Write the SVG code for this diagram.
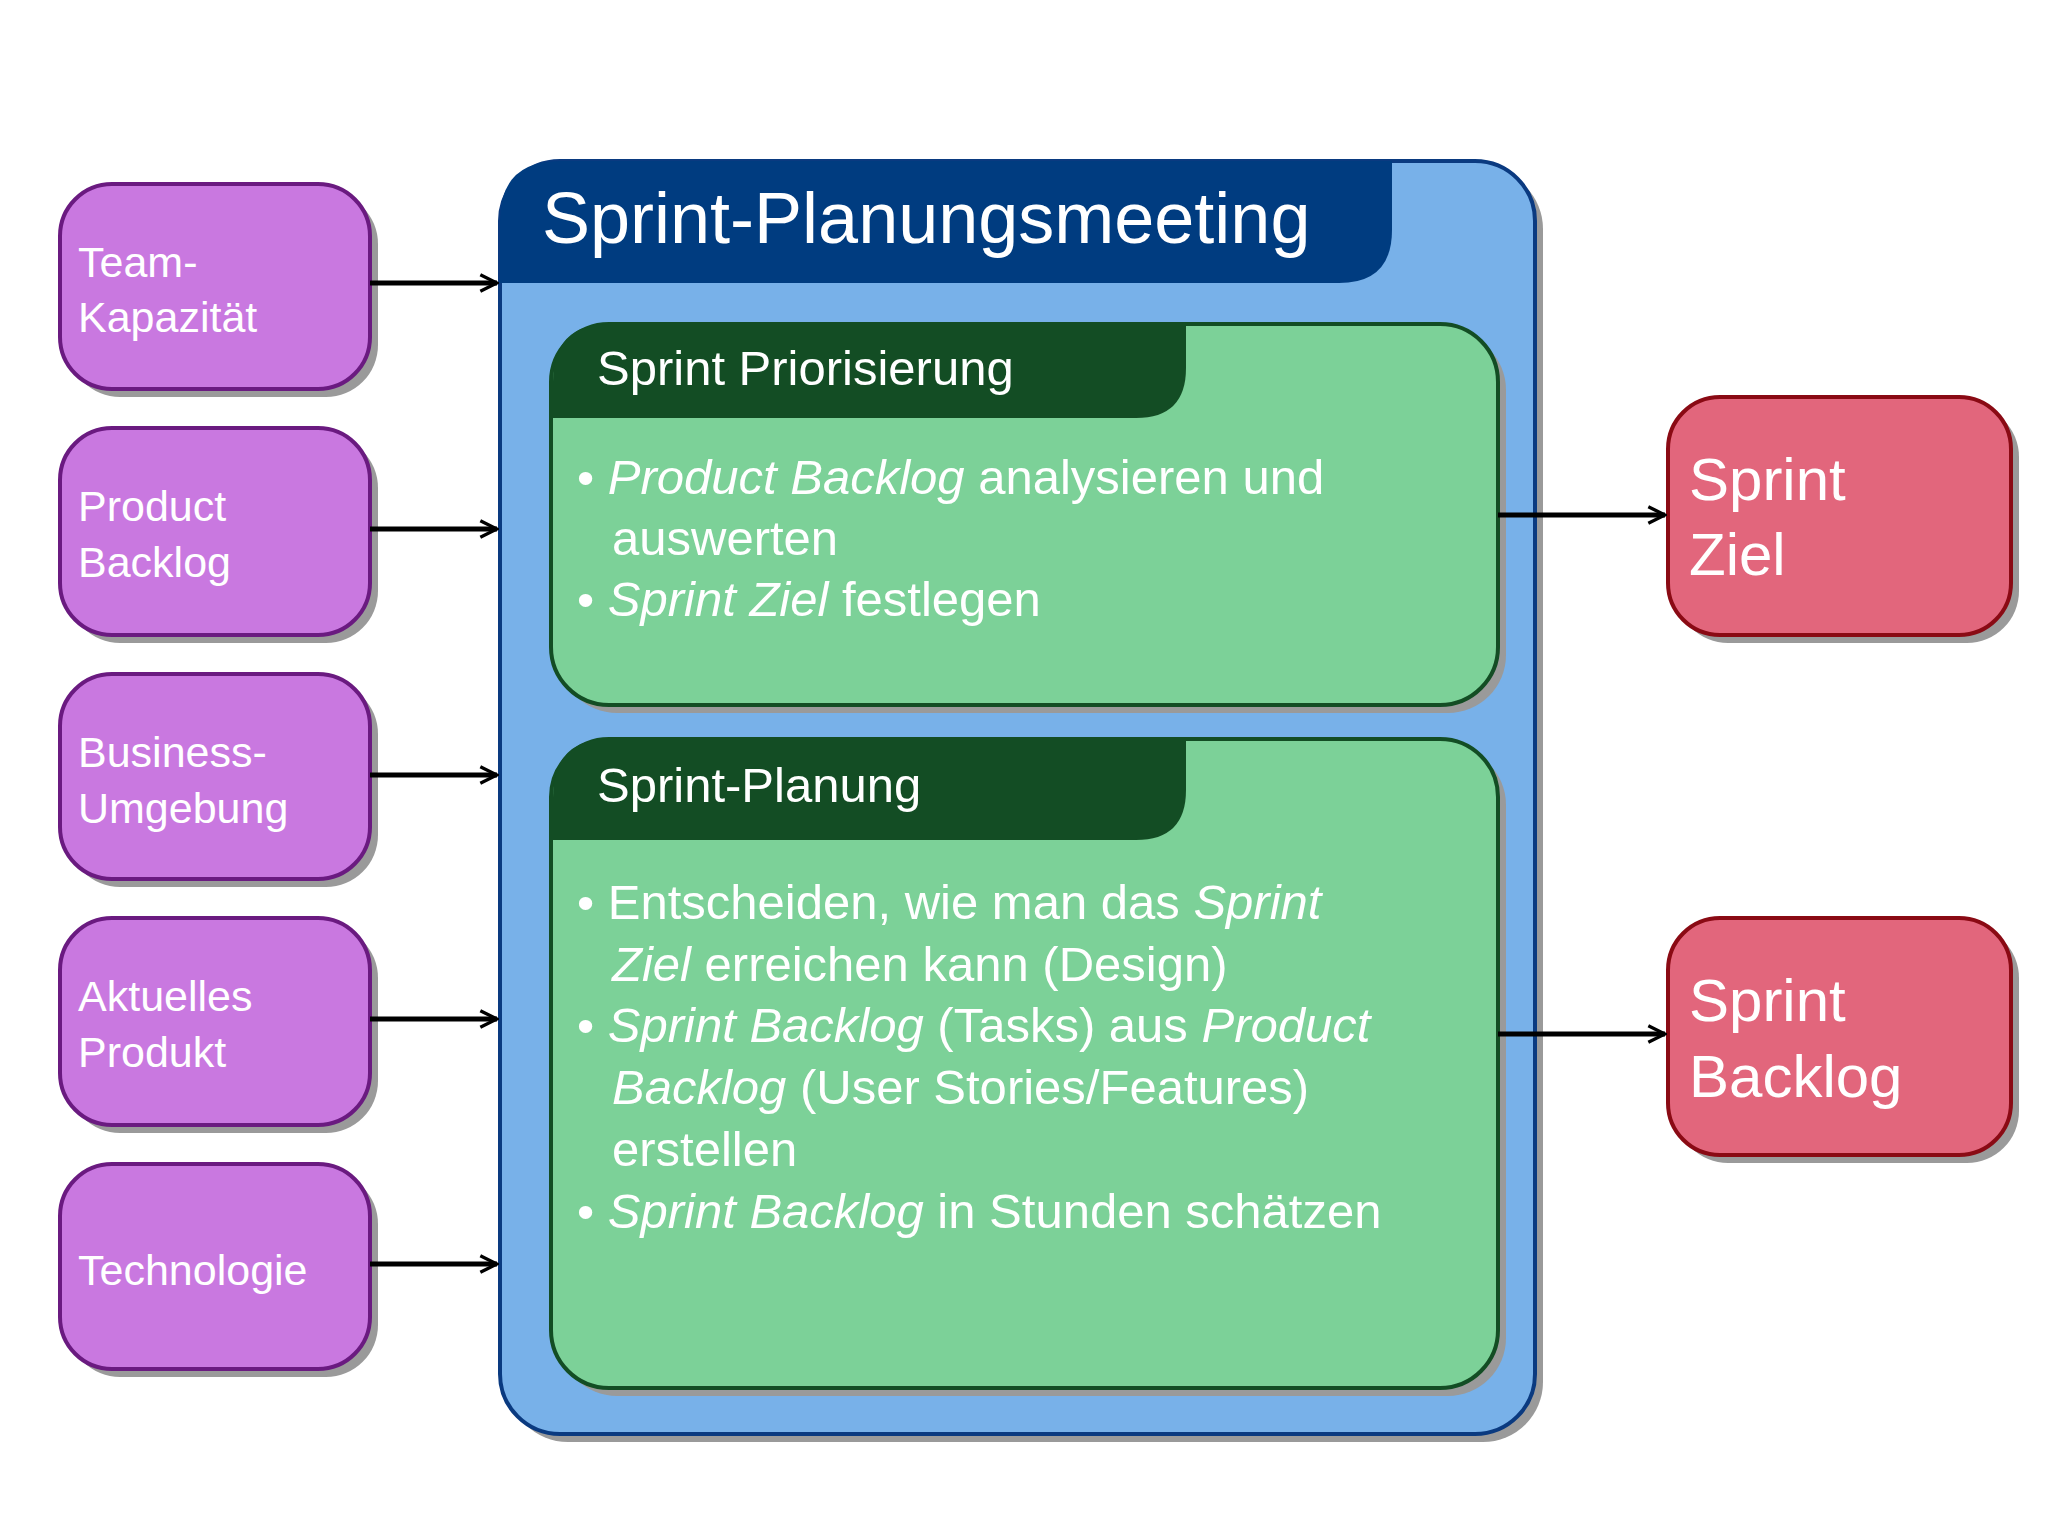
<svg xmlns="http://www.w3.org/2000/svg" width="2048" height="1535" viewBox="0 0 2048 1535">
<style>
text{font-family:"Liberation Sans",Arial,sans-serif;fill:#fff}
.p{fill:#c978e0;stroke:#6a1a80;stroke-width:4}
.r{fill:#e2667c;stroke:#8a0a14;stroke-width:4}
.g{fill:#7cd198;stroke:#134d24;stroke-width:4}
.sh{fill:#9a9a9a}
.pt{font-size:43px}
.rt{font-size:60px}
.b{font-size:49px}
.c{stroke:#000;stroke-width:5;fill:none;marker-end:url(#a)}
</style>
<defs><marker id="a" viewBox="0 0 12 12" refX="11" refY="6" markerWidth="4" markerHeight="4" orient="auto" markerUnits="strokeWidth"><path d="M1,1 L11,6 L1,11" fill="none" stroke="#000" stroke-width="2"/></marker></defs>
<rect width="2048" height="1535" fill="#fff"/>
<g id="meeting">
<rect x="508" y="169" width="1035" height="1273" rx="60" class="sh"/>
<rect x="500" y="161" width="1035" height="1273" rx="60" fill="#78b1e9" stroke="#0a3a80" stroke-width="4"/>
<path d="M560,161 H1392 V230 Q1392,283 1339,283 H500 V221 Q500,161 560,161 Z" fill="#003c80"/>
<text x="542" y="243" font-size="72">Sprint-Planungsmeeting</text>
</g>
<g id="prio">
<rect x="559" y="332" width="947" height="381" rx="58" class="sh"/>
<rect x="551" y="324" width="947" height="381" rx="58" class="g"/>
<path d="M609,324 H1186 V368 Q1186,418 1136,418 H553 V382 Q553,324 609,324 Z" fill="#134d24"/>
<text x="597" y="385" font-size="49">Sprint Priorisierung</text>
<text class="b" x="577" y="494">• <tspan font-style="italic">Product Backlog</tspan> analysieren und</text>
<text class="b" x="612" y="555">auswerten</text>
<text class="b" x="577" y="616">• <tspan font-style="italic">Sprint Ziel</tspan> festlegen</text>
</g>
<g id="planung">
<rect x="559" y="747" width="947" height="649" rx="58" class="sh"/>
<rect x="551" y="739" width="947" height="649" rx="58" class="g"/>
<path d="M609,739 H1186 V790 Q1186,840 1136,840 H553 V797 Q553,739 609,739 Z" fill="#134d24"/>
<text x="597" y="802" font-size="49">Sprint-Planung</text>
<text class="b" x="577" y="919">• Entscheiden, wie man das <tspan font-style="italic">Sprint</tspan></text>
<text class="b" x="612" y="981"><tspan font-style="italic">Ziel</tspan> erreichen kann (Design)</text>
<text class="b" x="577" y="1042">• <tspan font-style="italic">Sprint Backlog</tspan> (Tasks) aus <tspan font-style="italic">Product</tspan></text>
<text class="b" x="612" y="1104"><tspan font-style="italic">Backlog</tspan> (User Stories/Features)</text>
<text class="b" x="612" y="1166">erstellen</text>
<text class="b" x="577" y="1228">• <tspan font-style="italic">Sprint Backlog</tspan> in Stunden schätzen</text>
</g>
<g id="team"><rect x="68" y="192" width="310" height="205" rx="52" class="sh"/><rect x="60" y="184" width="310" height="205" rx="52" class="p"/><text class="pt" x="78" y="277">Team-</text><text class="pt" x="78" y="332">Kapazität</text></g>
<g id="pb"><rect x="68" y="436" width="310" height="207" rx="52" class="sh"/><rect x="60" y="428" width="310" height="207" rx="52" class="p"/><text class="pt" x="78" y="521">Product</text><text class="pt" x="78" y="577">Backlog</text></g>
<g id="bu"><rect x="68" y="682" width="310" height="205" rx="52" class="sh"/><rect x="60" y="674" width="310" height="205" rx="52" class="p"/><text class="pt" x="78" y="767">Business-</text><text class="pt" x="78" y="823">Umgebung</text></g>
<g id="ap"><rect x="68" y="926" width="310" height="207" rx="52" class="sh"/><rect x="60" y="918" width="310" height="207" rx="52" class="p"/><text class="pt" x="78" y="1011">Aktuelles</text><text class="pt" x="78" y="1067">Produkt</text></g>
<g id="tech"><rect x="68" y="1172" width="310" height="205" rx="52" class="sh"/><rect x="60" y="1164" width="310" height="205" rx="52" class="p"/><text class="pt" x="78" y="1285">Technologie</text></g>
<g id="ziel"><rect x="1676" y="405" width="343" height="238" rx="52" class="sh"/><rect x="1668" y="397" width="343" height="238" rx="52" class="r"/><text class="rt" x="1689" y="500">Sprint</text><text class="rt" x="1689" y="575">Ziel</text></g>
<g id="sb"><rect x="1676" y="926" width="343" height="237" rx="52" class="sh"/><rect x="1668" y="918" width="343" height="237" rx="52" class="r"/><text class="rt" x="1689" y="1021">Sprint</text><text class="rt" x="1689" y="1097">Backlog</text></g>
<g id="connectors">
<path class="c" d="M370,283 H497"/><path class="c" d="M370,529 H497"/><path class="c" d="M370,775 H497"/><path class="c" d="M370,1019 H497"/><path class="c" d="M370,1264 H497"/>
<path class="c" d="M1498,515 H1665"/><path class="c" d="M1498,1034 H1665"/>
</g>
</svg>
